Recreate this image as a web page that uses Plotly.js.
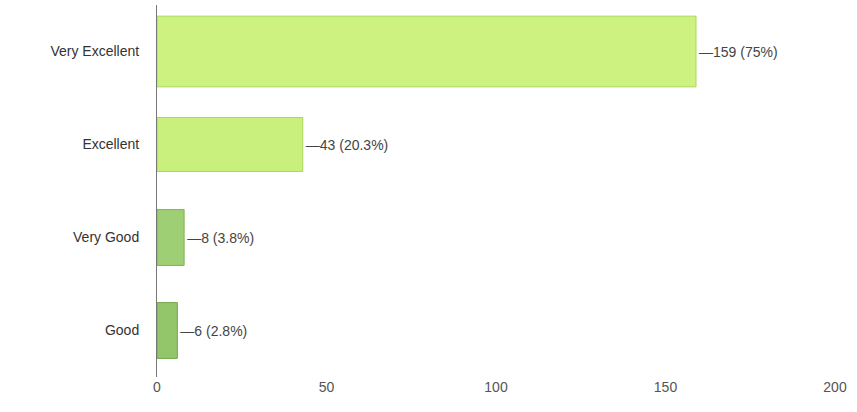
<!DOCTYPE html>
<html>
<head>
<meta charset="utf-8">
<script src="https://cdn.plot.ly/plotly-3.0.1.min.js"></script>
<style>html,body{margin:0;padding:0;background:#fff;}#chart{width:857px;height:412px;}</style>
</head>
<body>
<div id="chart"></div>
<script>
const categories = ["Very Excellent", "Excellent", "Very Good", "Good"];
const counts = [159, 43, 8, 6];
const percents = ["75%", "20.3%", "3.8%", "2.8%"];
const barColors = ["#cdf27f", "#c9f07c", "#9fcf74", "#93c66a"];
const lineColors = ["#a8d85a", "#a8d85a", "#7fb257", "#6fa84c"];
const xTicks = [0, 50, 100, 150, 200];

const labels = counts.map((c, i) => "\u2014" + c + " (" + percents[i] + ")");

const trace = {
  type: "bar",
  orientation: "h",
  y: categories,
  x: counts,
  text: labels,
  textposition: "outside",
  cliponaxis: false,
  textfont: {family: "Liberation Sans, Arial, sans-serif", size: 14, color: "#444"},
  marker: {color: barColors, line: {color: lineColors, width: 1}},
  width: [0.76, 0.58, 0.6, 0.6],
  hoverinfo: "none"
};

const layout = {
  width: 857,
  height: 412,
  margin: {l: 157, r: 22, t: 5, b: 35},
  paper_bgcolor: "#ffffff",
  plot_bgcolor: "#ffffff",
  showlegend: false,
  font: {family: "Liberation Sans, Arial, sans-serif", size: 14, color: "#444"},
  xaxis: {
    range: [0, 200],
    tickvals: xTicks,
    ticktext: xTicks.map(String),
    showgrid: false,
    zeroline: false,
    showline: false,
    ticks: "",
    tickfont: {size: 14, color: "#555"}
  },
  yaxis: {
    autorange: "reversed",
    showgrid: false,
    zeroline: false,
    showline: true,
    linecolor: "#777",
    linewidth: 1,
    ticks: "",
    ticklabelstandoff: 14,
    tickfont: {size: 14, color: "#333"}
  }
};

Plotly.newPlot("chart", [trace], layout, {displayModeBar: false, staticPlot: true});
</script>
</body>
</html>
